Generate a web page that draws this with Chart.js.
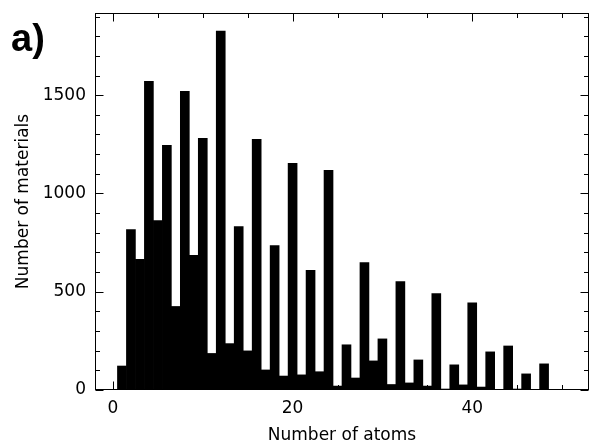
<!DOCTYPE html>
<html>
<head>
<meta charset="utf-8">
<script src="https://cdn.jsdelivr.net/npm/chart.js@4/dist/chart.umd.min.js"></script>
<style>
  html, body { margin: 0; padding: 0; background: #fff; }
  #wrap { width: 590px; height: 443px; }
</style>
</head>
<body>
<div id="wrap"><canvas id="c" width="590" height="443"></canvas></div>
<script>
// Histogram: number of materials per number of atoms in the unit cell
const atoms = [
   1,  2,  3,  4,  5,  6,  7,  8,  9, 10,
  11, 12, 13, 14, 15, 16, 17, 18, 19, 20,
  21, 22, 23, 24, 25, 26, 27, 28, 29, 30,
  31, 32, 33, 34, 35, 36, 37, 38, 39, 40,
  41, 42, 43, 44, 45, 46, 47, 48, 49, 50
];
const materials = [
   122,  816,  665, 1571,  862, 1245,  425, 1520,  685, 1281,
   186, 1826,  236,  832,  199, 1275,  102,  735,   71, 1153,
    77,  609,   93, 1117,   20,  230,   61,  648,  148,  260,
    28,  551,   36,  153,   20,  490,    5,  128,   26,  444,
    15,  194,    3,  224,    5,   82,    2,  133,    0,    0
];
const xTickValues = [0, 20, 40];
const yTickValues = [0, 500, 1000, 1500];
const panelLabel = 'a)';
const xTitle = 'Number of atoms';
const yTitle = 'Number of materials';

const X_MINOR_STEP = 5;
const Y_MINOR_STEP = 100;
const FONT = { family: 'DejaVu Sans', size: 17 };

// Frame on all four sides with inward major/minor ticks
const frameTicks = {
  id: 'frameTicks',
  afterDatasetsDraw(chart) {
    const { ctx, chartArea: a, scales: { x, y } } = chart;
    const L = Math.round(a.left) + 0.5, R = Math.round(a.right) - 0.5;
    const T = Math.round(a.top) + 0.5, B = Math.round(a.bottom) - 0.5;
    ctx.save();
    ctx.strokeStyle = '#000';
    ctx.lineWidth = 1;
    ctx.beginPath();
    for (let v = Math.ceil(x.min / X_MINOR_STEP) * X_MINOR_STEP; v <= x.max; v += X_MINOR_STEP) {
      const px = Math.round(x.getPixelForValue(v)) + 0.5;
      const len = xTickValues.includes(v) ? 8 : 4.5;
      ctx.moveTo(px, B); ctx.lineTo(px, B - len);
      ctx.moveTo(px, T); ctx.lineTo(px, T + len);
    }
    for (let v = 0; v <= y.max; v += Y_MINOR_STEP) {
      const py = Math.round(y.getPixelForValue(v)) + 0.5;
      const len = yTickValues.includes(v) ? 8 : 4.5;
      ctx.moveTo(L, py); ctx.lineTo(L + len, py);
      ctx.moveTo(R, py); ctx.lineTo(R - len, py);
    }
    ctx.stroke();
    ctx.strokeRect(L, T, R - L, B - T);
    ctx.restore();
  }
};

// Panel letter in the top-left corner
const panelTag = {
  id: 'panelTag',
  afterDraw(chart) {
    const { ctx } = chart;
    ctx.save();
    ctx.fillStyle = '#000';
    ctx.font = 'bold 38px "Liberation Sans"';
    ctx.textBaseline = 'alphabetic';
    ctx.textAlign = 'left';
    ctx.fillText(panelLabel, 11, 51);
    ctx.restore();
  }
};

const plainNumber = v => String(v);

new Chart(document.getElementById('c'), {
  type: 'bar',
  data: {
    datasets: [{
      data: atoms.map((a, i) => ({ x: a, y: materials[i] })),
      backgroundColor: '#000',
      borderWidth: 0,
      barPercentage: 1,
      categoryPercentage: 1
    }]
  },
  options: {
    responsive: false,
    animation: false,
    devicePixelRatio: 1,
    layout: { padding: { top: 13, right: 1, left: 0, bottom: 0 } },
    plugins: { legend: { display: false }, tooltip: { enabled: false } },
    scales: {
      x: {
        type: 'linear',
        offset: false,
        min: -2,
        max: 53,
        afterBuildTicks: s => { s.ticks = xTickValues.map(v => ({ value: v })); },
        afterFit: s => { s.height = 53; s.paddingLeft = 0; s.paddingRight = 0; },
        grid: { display: false, drawTicks: false, offset: false },
        border: { display: false },
        ticks: { font: FONT, color: '#000', padding: 8, maxRotation: 0, autoSkip: false, callback: plainNumber },
        title: { display: true, text: xTitle, font: FONT, color: '#000', padding: { top: 0, bottom: -3 } }
      },
      y: {
        min: 0,
        max: 1918,
        afterBuildTicks: s => { s.ticks = yTickValues.map(v => ({ value: v })); },
        afterFit: s => { s.width = 95; s.paddingTop = 0; s.paddingBottom = 0; },
        grid: { display: false, drawTicks: false },
        border: { display: false },
        ticks: { font: FONT, color: '#000', padding: 9, autoSkip: false, callback: plainNumber },
        title: { display: true, text: yTitle, font: FONT, color: '#000', padding: { top: 13, bottom: 0 } }
      }
    }
  },
  plugins: [frameTicks, panelTag]
});
</script>
</body>
</html>
